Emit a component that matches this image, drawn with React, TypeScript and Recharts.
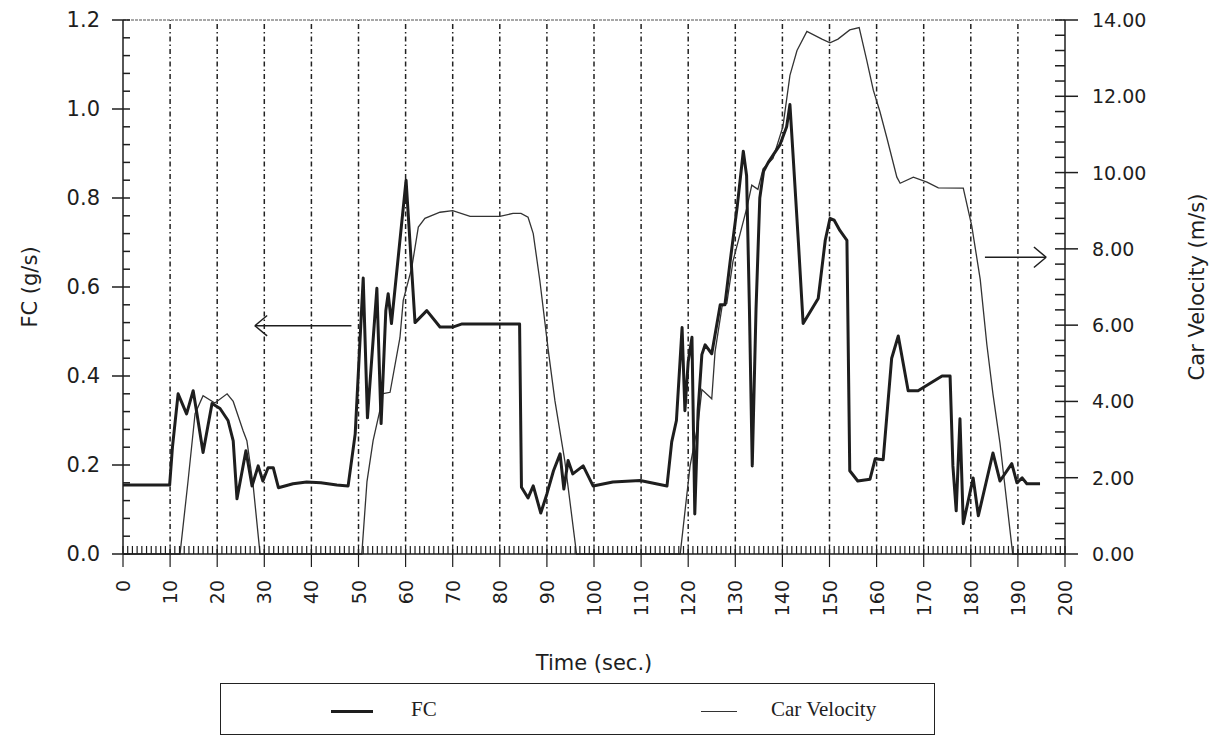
import React from 'react';
import {
  ComposedChart,
  Line,
  XAxis,
  YAxis,
  ReferenceLine,
  Legend,
} from 'recharts';

// Fuel consumption (g/s) sampled over the drive, time in seconds
const fcTime = [
  0, 9.9, 10.5, 11.7, 13.5, 14.9, 15.7, 17, 18.9, 20.6, 22.3, 23.4, 24.2, 26.1, 27.4, 28.7, 29.7,
  30.8, 31.9, 33, 36.1, 39, 42, 45.4, 47.8, 49.3, 51, 51.9, 53.9, 54.8, 55.8, 56.3, 57, 60.1, 62,
  64.5, 67.3, 70, 72, 84.2, 84.6, 86, 87.1, 88.7, 90, 91.4, 92.8, 93.6, 94.5, 95.5, 97.7, 99.8, 104,
  109.8, 115.5, 116.5, 117.5, 118.7, 119.3, 120, 120.8, 121.4, 122.1, 122.9, 123.6, 125, 126.8,
  127.8, 128.9, 130.4, 131.7, 132.4, 133, 133.6, 134.4, 135.2, 136, 137, 139.5, 140.9, 141.6, 142.3,
  143.4, 144.4, 147.6, 149.1, 150.1, 151, 152.2, 153.7, 154.3, 156, 158.6, 159.7, 161.4, 163.2,
  164.6, 166.7, 168.8, 171.3, 173.9, 175.6, 176.2, 176.9, 177.7, 178.4, 180.5, 181.6, 184.7, 186.2,
  188.7, 189.8, 190.9, 191.9, 194.7,
];
const fcValue = [
  0.155, 0.155, 0.24, 0.36, 0.315, 0.367, 0.315, 0.228, 0.338, 0.327, 0.3, 0.254, 0.124, 0.232,
  0.153, 0.198, 0.164, 0.194, 0.194, 0.149, 0.158, 0.162, 0.16, 0.155, 0.153, 0.27, 0.62, 0.306,
  0.597, 0.293, 0.547, 0.585, 0.518, 0.84, 0.52, 0.547, 0.51, 0.51, 0.517, 0.517, 0.15, 0.126,
  0.153, 0.092, 0.135, 0.187, 0.225, 0.146, 0.21, 0.18, 0.198, 0.153, 0.162, 0.165, 0.153, 0.252,
  0.3, 0.509, 0.322, 0.432, 0.487, 0.09, 0.322, 0.448, 0.47, 0.45, 0.56, 0.56, 0.657, 0.78, 0.905,
  0.85, 0.55, 0.198, 0.55, 0.8, 0.86, 0.88, 0.92, 0.96, 1.01, 0.89, 0.7, 0.518, 0.574, 0.705, 0.754,
  0.75, 0.727, 0.705, 0.187, 0.164, 0.168, 0.214, 0.212, 0.44, 0.49, 0.367, 0.367, 0.383, 0.4, 0.4,
  0.198, 0.097, 0.304, 0.068, 0.171, 0.086, 0.227, 0.164, 0.203, 0.16, 0.171, 0.158, 0.158,
];

// Car velocity (m/s) over the same drive
const velTime = [
  0, 12.1, 13.8, 15.3, 17, 19.5, 22.1, 23.4, 25.5, 26.3, 27.6, 29.1, 50.7, 51.8, 53.1, 54.6, 55,
  56.7, 58.8, 59.5, 61.3, 62.7, 64.1, 67.3, 70, 73.7, 80, 82.8, 84.5, 86, 87.1, 88.5, 90.3, 91.7,
  93.8, 96.3, 118.3, 120.4, 122.1, 122.9, 125, 125.7, 127.2, 128.2, 129.5, 132.5, 133.5, 134.8,
  135.9, 138, 140.1, 141.6, 143.1, 145.2, 148.4, 150.1, 151.8, 154.3, 156.3, 157.9, 159.3, 160.7,
  162.2, 164.3, 165, 167.8, 170.7, 173.1, 178.4, 180.2, 182, 183.4, 184.7, 186.2, 188.9, 195,
];
const velValue = [
  0, 0, 1.9, 3.68, 4.15, 3.96, 4.2, 4.0, 3.23, 2.97, 1.84, 0, 0, 1.9, 2.97, 3.8, 4.2, 4.24, 5.67,
  6.65, 7.5, 8.57, 8.8, 8.96, 9.0, 8.85, 8.85, 8.93, 8.93, 8.83, 8.4, 7.17, 5.33, 4.02, 2.44, 0, 0,
  2.31, 3.41, 4.31, 4.07, 5.3, 6.5, 6.57, 7.67, 9.1, 9.67, 9.56, 10.1, 10.37, 11.2, 12.55, 13.2,
  13.7, 13.5, 13.4, 13.5, 13.74, 13.8, 12.95, 12.16, 11.6, 10.9, 9.88, 9.72, 9.88, 9.75, 9.6, 9.59,
  8.6, 7.2, 5.5, 4.2, 2.9, 0, 0,
];

// Axis ticks: labelled majors plus unlabelled minors
const timeMajor = [0, 10, 20, 30, 40, 50, 60, 70, 80, 90, 100, 110, 120, 130, 140, 150, 160, 170, 180, 190, 200];
const gridTimes = [10, 20, 30, 40, 50, 60, 70, 80, 90, 100, 110, 120, 130, 140, 150, 160, 170, 180, 190];
const timeTicks = Array.from({ length: 201 }, (_, i) => i);
const fcTicks = Array.from({ length: 31 }, (_, i) => Math.round(i * 4) / 100);
const velTicks = Array.from({ length: 36 }, (_, i) => Math.round(i * 4) / 10);

const fcData = fcTime.map((t, i) => ({ t, fc: fcValue[i] }));
const velData = velTime.map((t, i) => ({ t, v: velValue[i] }));

const SANS = '"DejaVu Sans", "Liberation Sans", sans-serif';
const SERIF = '"Liberation Serif", "DejaVu Serif", serif';
const INK = '#1e1e1e';

// tick geometry (px)
const X_OUT = 13;
const X_IN = 8;
const X_GAP = 13;
const L_OUT = 11;
const L_IN = 7;
const L_GAP = 12;
const R_OUT = 13;
const R_IN = 10;
const R_GAP = 14;

const near = (v: number, step: number) => Math.abs(v / step - Math.round(v / step)) < 1e-6;

const FcTick = (props: any) => {
  const { x, y, payload } = props;
  const v = Number(payload.value);
  const major = near(v, 0.2);
  const axisX = x + L_OUT + L_GAP;
  return (
    <g>
      <line x1={major ? axisX - L_OUT : axisX} x2={axisX + L_IN} y1={y} y2={y} stroke={INK} strokeWidth={1.5} />
      {major && (
        <text x={x} y={y} textAnchor="end" dominantBaseline="central" fontFamily={SANS} fontSize={21} fill={INK}>
          {v.toFixed(1)}
        </text>
      )}
    </g>
  );
};

const VelTick = (props: any) => {
  const { x, y, payload } = props;
  const v = Number(payload.value);
  const major = near(v, 2);
  const axisX = x - R_OUT - R_GAP;
  return (
    <g>
      <line x1={axisX - R_IN} x2={major ? axisX + R_OUT : axisX} y1={y} y2={y} stroke={INK} strokeWidth={1.5} />
      {major && (
        <text x={x} y={y} textAnchor="start" dominantBaseline="central" fontFamily={SANS} fontSize={19} fill={INK}>
          {v.toFixed(2)}
        </text>
      )}
    </g>
  );
};

const TimeTick = (props: any) => {
  const { x, y, payload } = props;
  const v = Number(payload.value);
  const major = timeMajor.includes(v);
  const axisY = y - X_OUT - X_GAP;
  return (
    <g>
      <line x1={x} x2={x} y1={axisY - X_IN} y2={major ? axisY + X_OUT : axisY} stroke={INK} strokeWidth={1.2} />
      {major && (
        <text
          x={x}
          y={y}
          transform={`rotate(-90 ${x} ${y})`}
          textAnchor="end"
          dominantBaseline="central"
          fontFamily={SANS}
          fontSize={19}
          fill={INK}
        >
          {v}
        </text>
      )}
    </g>
  );
};

const VerticalTitle = (props: any) => {
  const { viewBox, text, dx } = props;
  if (!viewBox) return null;
  const x = viewBox.x + dx;
  const y = viewBox.y + viewBox.height / 2;
  return (
    <text
      x={x}
      y={y}
      transform={`rotate(-90 ${x} ${y})`}
      textAnchor="middle"
      dominantBaseline="central"
      fontFamily={SANS}
      fontSize={21}
      fill={INK}
    >
      {text}
    </text>
  );
};

const TimeTitle = (props: any) => {
  const { viewBox } = props;
  if (!viewBox) return null;
  const x = viewBox.x + viewBox.width / 2;
  const y = viewBox.y + 109;
  return (
    <text x={x} y={y} textAnchor="middle" dominantBaseline="central" fontFamily={SANS} fontSize={21} fill={INK}>
      Time (sec.)
    </text>
  );
};

const LegendBox = () => (
  <div
    style={{
      boxSizing: 'border-box',
      width: 715,
      height: 52,
      border: '1.5px solid #222',
      background: '#fff',
      position: 'relative',
      fontFamily: SERIF,
      fontSize: 21,
      color: INK,
    }}
  >
    <div style={{ position: 'absolute', left: 110, top: 26, width: 42, height: 0, borderTop: `3px solid ${INK}` }} />
    <div style={{ position: 'absolute', left: 190, top: 12, lineHeight: '26px' }}>FC</div>
    <div style={{ position: 'absolute', left: 480, top: 27, width: 36, height: 0, borderTop: '1px solid #333' }} />
    <div style={{ position: 'absolute', left: 550, top: 12, lineHeight: '26px' }}>Car Velocity</div>
  </div>
);

export default function App() {
  return (
    <ComposedChart width={1210} height={727} margin={{ top: 12, right: 0, bottom: 0, left: 0 }}>
      <XAxis
        xAxisId="t"
        type="number"
        dataKey="t"
        domain={[0, 200]}
        ticks={timeTicks}
        interval={0}
        height={129}
        tickSize={X_OUT}
        tickMargin={X_GAP}
        tickLine={false}
        axisLine={{ stroke: INK, strokeWidth: 1.5 }}
        tick={<TimeTick />}
        label={<TimeTitle />}
      />

      <YAxis
        yAxisId="fc"
        orientation="left"
        type="number"
        domain={[0, 1.2]}
        ticks={fcTicks}
        interval={0}
        width={115}
        tickSize={L_OUT}
        tickMargin={L_GAP}
        tickLine={false}
        axisLine={{ stroke: INK, strokeWidth: 1.5 }}
        tick={<FcTick />}
        label={<VerticalTitle text="FC (g/s)" dx={22} />}
      />
      <YAxis
        yAxisId="vel"
        orientation="right"
        type="number"
        domain={[0, 14]}
        ticks={velTicks}
        interval={0}
        width={153}
        tickSize={R_OUT}
        tickMargin={R_GAP}
        tickLine={false}
        axisLine={{ stroke: INK, strokeWidth: 1.5 }}
        tick={<VelTick />}
        label={<VerticalTitle text="Car Velocity (m/s)" dx={132} />}
      />

      {/* vertical dash-dot grid every 10 s */}
      {gridTimes.map((t) => (
        <ReferenceLine
          key={t}
          xAxisId="t"
          yAxisId="fc"
          x={t}
          stroke="#222"
          strokeWidth={1.5}
          strokeDasharray="5 3 1.5 3"
        />
      ))}

      {/* top frame */}
      <ReferenceLine xAxisId="t" yAxisId="fc" y={1.2} stroke="#8a8a8a" strokeWidth={1.5} strokeDasharray="3 1" />

      <Line
        xAxisId="t"
        yAxisId="vel"
        data={velData}
        dataKey="v"
        name="Car Velocity"
        type="linear"
        stroke="#333"
        strokeWidth={1.3}
        dot={false}
        isAnimationActive={false}
      />
      <Line
        xAxisId="t"
        yAxisId="fc"
        data={fcData}
        dataKey="fc"
        name="FC"
        type="linear"
        stroke={INK}
        strokeWidth={3}
        strokeLinejoin="round"
        dot={false}
        isAnimationActive={false}
      />

      {/* arrow pointing to the FC axis */}
      <ReferenceLine xAxisId="t" yAxisId="fc" segment={[{ x: 48.5, y: 0.513 }, { x: 28, y: 0.513 }]} stroke={INK} strokeWidth={1.5} />
      <ReferenceLine xAxisId="t" yAxisId="fc" segment={[{ x: 28, y: 0.513 }, { x: 30.6, y: 0.536 }]} stroke={INK} strokeWidth={1.5} />
      <ReferenceLine xAxisId="t" yAxisId="fc" segment={[{ x: 28, y: 0.513 }, { x: 30.6, y: 0.49 }]} stroke={INK} strokeWidth={1.5} />

      {/* arrow pointing to the velocity axis */}
      <ReferenceLine xAxisId="t" yAxisId="vel" segment={[{ x: 183, y: 7.78 }, { x: 196, y: 7.78 }]} stroke={INK} strokeWidth={1.5} />
      <ReferenceLine xAxisId="t" yAxisId="vel" segment={[{ x: 196, y: 7.78 }, { x: 193.4, y: 8.05 }]} stroke={INK} strokeWidth={1.5} />
      <ReferenceLine xAxisId="t" yAxisId="vel" segment={[{ x: 196, y: 7.78 }, { x: 193.4, y: 7.51 }]} stroke={INK} strokeWidth={1.5} />

      <Legend
        verticalAlign="bottom"
        height={52}
        wrapperStyle={{ left: 212, width: 715, bottom: 0 }}
        content={() => <LegendBox />}
      />
    </ComposedChart>
  );
}
